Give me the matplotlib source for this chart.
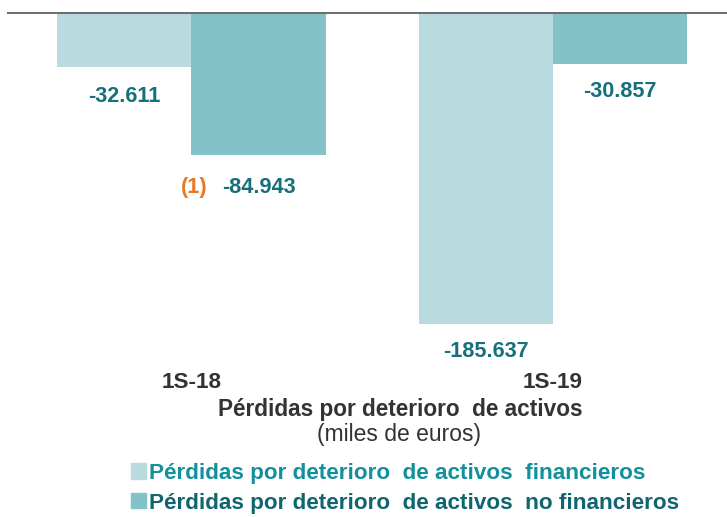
import matplotlib
matplotlib.use("Agg")
import matplotlib.pyplot as plt
from matplotlib.patches import Patch

plt.rcParams['font.family'] = ['Liberation Sans', 'DejaVu Sans']

categories = ["1S-18", "1S-19"]
financieros = [-32611, -185637]
no_financieros = [-84943, -30857]
series_names = ["Pérdidas por deterioro  de activos  financieros",
                "Pérdidas por deterioro  de activos  no financieros"]

def fmt(v):
    return "{:,}".format(v).replace(",", ".")

W, H = 727, 517
fig = plt.figure(figsize=(W/100, H/100), dpi=100)
ax_bottom_px = 356
ax = fig.add_axes([7/W, 1-ax_bottom_px/H, 1-7/W, (ax_bottom_px-12)/H])

c_light = "#b9dbe0"
c_dark = "#84c2ca"
w = 0.371
x = [0, 1]
xf = [i - w/2 for i in x]
xn = [i + w/2 for i in x]
ax.bar(xf, financieros, width=w, color=c_light, linewidth=0)
ax.bar(xn, no_financieros, width=w, color=c_dark, linewidth=0)
ax.set_xlim(-0.510, 1.481)
ax.set_ylim(-204800, 0)
ax.axhline(0, color="#6e6e6e", lw=2.2, zorder=5)

lab_col = "#16707a"
lab_kw = dict(textcoords="offset points", ha="center", va="center",
              fontsize=15.6, fontweight="bold", color=lab_col)
off_f = [21.2, 20.2]
off_n = [23.4, 19.8]
for xs, vals, offs in ((xf, financieros, off_f), (xn, no_financieros, off_n)):
    for xi, v, o in zip(xs, vals, offs):
        ax.annotate(fmt(v), xy=(xi, v), xytext=(0, -o), **lab_kw)

ax.annotate("(1)", xy=(xn[0], no_financieros[0]), xytext=(-46, -off_n[0]),
            textcoords="offset points", ha="center", va="center",
            fontsize=15.6, fontweight="bold", color="#e87722")

for s in ax.spines.values():
    s.set_visible(False)
ax.set_yticks([])
ax.set_xticks(x)
ax.set_xticklabels(categories, fontsize=16.2, fontweight="bold", color="#333333")
ax.tick_params(axis="x", length=0, pad=11.7)

fig.text(400/W, 1-409.5/H, "Pérdidas por deterioro  de activos", ha="center", va="center",
         fontsize=16.3, fontweight="bold", color="#333333")
fig.text(399/W, 1-434/H, "(miles de euros)", ha="center", va="center",
         fontsize=16.5, color="#333333")

handles = [Patch(color=c_light), Patch(color=c_dark)]
leg = fig.legend(handles, series_names, loc="upper left",
                 bbox_to_anchor=(122/W, 1-454/H), frameon=False,
                 handlelength=0.67, handleheight=0.67, handletextpad=0.15,
                 labelspacing=0.38, borderaxespad=0,
                 prop={"size": 16.2, "weight": "bold"},
                 labelcolor=["#12909c", "#0f6670"])

fig.savefig("out.png", dpi=100)
